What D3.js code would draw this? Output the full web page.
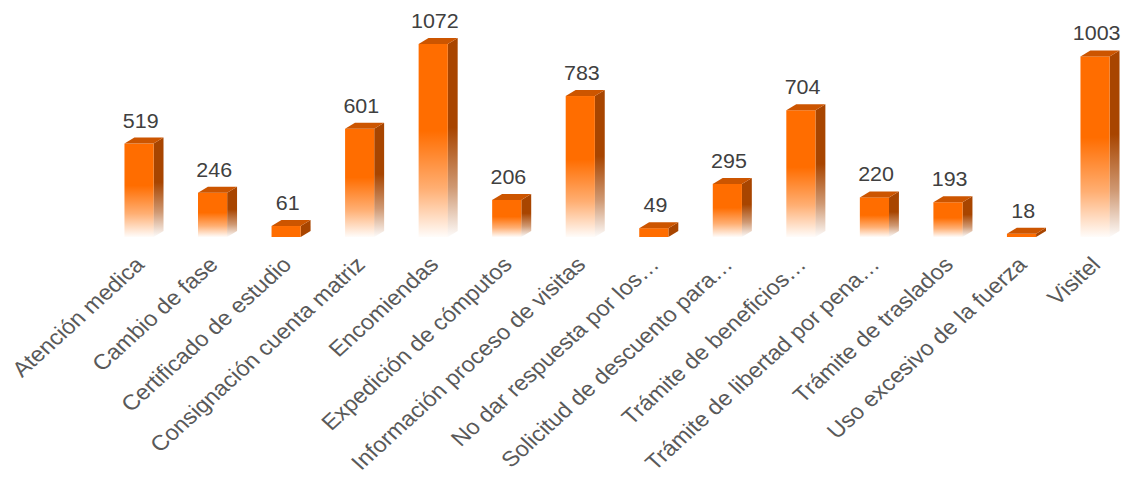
<!DOCTYPE html>
<html>
<head>
<meta charset="utf-8">
<script src="https://cdn.jsdelivr.net/npm/d3@7/dist/d3.min.js"></script>
<style>
  html, body { margin: 0; padding: 0; background: #fff; }
  svg { display: block; }
</style>
</head>
<body>
<div id="vis"></div>
<script>
// Categories and values
var categories = [
  'Atención medica',
  'Cambio de fase',
  'Certificado de estudio',
  'Consignación cuenta matriz',
  'Encomiendas',
  'Expedición de cómputos',
  'Información proceso de visitas',
  'No dar respuesta por los…',
  'Solicitud de descuento para…',
  'Trámite de beneficios…',
  'Trámite de libertad por pena…',
  'Trámite de traslados',
  'Uso excesivo de la fuerza',
  'Visitel'
];
var values = [519, 246, 61, 601, 1072, 206, 783, 49, 295, 704, 220, 193, 18, 1003];

// The picture is stretched sideways, so draw in a narrower
// coordinate space and let the viewBox widen it
var outerWidth = 1125;
var outerHeight = 478;
var stretch = 1.1;
var width = outerWidth / stretch;
var height = outerHeight;

var baseline = 237;
var barWidth = 26.5;
var depthX = 9;
var depthY = 6;

var colors = {
  front: '#ff6d00',
  top: '#cc5500',
  side: '#a84500',
  value: '#404040',
  label: '#595959'
};

var data = categories.map(function (c, i) {
  return { category: c, value: values[i], index: i };
});

var x = d3.scalePoint()
  .domain(categories)
  .range([126.4, 995.5]);

var y = d3.scaleLinear()
  .domain([0, d3.max(values)])
  .range([baseline, 44]);

var svg = d3.select('#vis').append('svg')
  .attr('width', outerWidth)
  .attr('height', outerHeight)
  .attr('viewBox', '0 0 ' + width + ' ' + height)
  .attr('preserveAspectRatio', 'none');

// Fading gradients for front and side faces
var defs = svg.append('defs');

function addFade(id, color) {
  var grad = defs.append('linearGradient')
    .attr('id', id)
    .attr('x1', 0).attr('y1', 0)
    .attr('x2', 0).attr('y2', 1);
  grad.append('stop').attr('offset', '0%').attr('stop-color', color).attr('stop-opacity', 1);
  grad.append('stop').attr('offset', '45%').attr('stop-color', color).attr('stop-opacity', 1);
  grad.append('stop').attr('offset', '75%').attr('stop-color', color).attr('stop-opacity', 0.55);
  grad.append('stop').attr('offset', '100%').attr('stop-color', color).attr('stop-opacity', 0.02);
}
addFade('fade-front', colors.front);
addFade('fade-side', colors.side);

// short bars stay solid
var fadeMin = 20;

var bars = svg.selectAll('.bar3d').data(data)
  .enter().append('g')
  .attr('class', 'bar3d');

bars.append('polygon')
  .attr('class', 'side')
  .attr('points', function (d) {
    var x1 = x(d.category) + barWidth / 2;
    var top = y(d.value);
    return [
      [x1, top], [x1 + depthX, top - depthY],
      [x1 + depthX, baseline - depthY], [x1, baseline]
    ].join(' ');
  })
  .attr('fill', function (d) {
    return (baseline - y(d.value)) > fadeMin ? 'url(#fade-side)' : colors.side;
  });

bars.append('rect')
  .attr('class', 'front')
  .attr('x', function (d) { return x(d.category) - barWidth / 2; })
  .attr('y', function (d) { return y(d.value); })
  .attr('width', barWidth)
  .attr('height', function (d) { return baseline - y(d.value); })
  .attr('fill', function (d) {
    return (baseline - y(d.value)) > fadeMin ? 'url(#fade-front)' : colors.front;
  });

bars.append('polygon')
  .attr('class', 'top')
  .attr('points', function (d) {
    var x0 = x(d.category) - barWidth / 2;
    var x1 = x0 + barWidth;
    var top = y(d.value);
    return [
      [x0, top], [x0 + depthX, top - depthY],
      [x1 + depthX, top - depthY], [x1, top]
    ].join(' ');
  })
  .attr('fill', colors.top);

// Value labels
svg.selectAll('.value').data(data)
  .enter().append('text')
  .attr('class', 'value')
  .attr('x', function (d) { return x(d.category) + 1.5; })
  .attr('y', function (d) { return y(d.value) - 16; })
  .attr('text-anchor', 'middle')
  .style('font-family', '"Liberation Sans", Arial, sans-serif')
  .style('font-size', '19.5px')
  .attr('fill', colors.value)
  .text(function (d) { return d.value; });

// Category labels, rotated
svg.selectAll('.cat').data(data)
  .enter().append('text')
  .attr('class', 'cat')
  .attr('text-anchor', 'end')
  .attr('transform', function (d) {
    return 'translate(' + (x(d.category) + 6) + ',' + 266 + ') rotate(-45)';
  })
  .style('font-family', '"Liberation Sans", Arial, sans-serif')
  .style('font-size', '21.5px')
  .attr('fill', colors.label)
  .text(function (d) { return d.category; });
</script>
</body>
</html>
